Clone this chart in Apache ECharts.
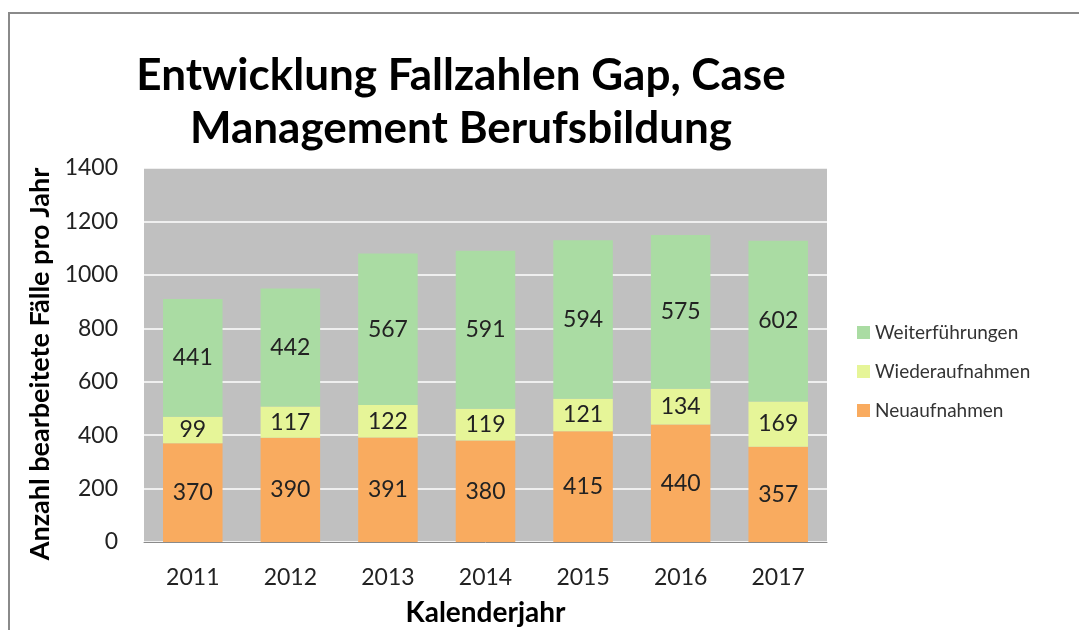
<!DOCTYPE html>
<html>
<head>
<meta charset="utf-8">
<script src="https://cdn.jsdelivr.net/npm/echarts@6/dist/echarts.min.js"></script>
<style>
  html, body { margin: 0; padding: 0; background: #fff; }
  #chart { width: 1079px; height: 630px; }
</style>
</head>
<body>
<div id="chart"></div>
<script>
// data
const years = ['2011', '2012', '2013', '2014', '2015', '2016', '2017'];
const neuaufnahmen = [370, 390, 391, 380, 415, 440, 357];
const wiederaufnahmen = [99, 117, 122, 119, 121, 134, 169];
const weiterfuehrungen = [441, 442, 567, 591, 594, 575, 602];

const font = 'Lato';
const dark = '#222';

let chart = echarts.init(document.getElementById('chart'));

function seg(name, data, color) {
  return {
    name: name,
    type: 'bar',
    stack: 'total',
    barWidth: '61%',
    data: data,
    itemStyle: { color: color },
    label: {
      show: true,
      position: 'inside',
      fontFamily: font,
      fontSize: 23,
      color: dark
    }
  };
}

chart.setOption({
  animation: false,
  graphic: [
    {
      type: 'rect',
      shape: { x: 9, y: 13, width: 1200, height: 700 },
      style: { fill: 'none', stroke: '#8a8a8a', lineWidth: 2 }
    },
    {
      type: 'text',
      x: 461, y: 76,
      style: {
        text: 'Entwicklung Fallzahlen Gap, Case',
        fontFamily: font, fontWeight: 'bold', fontSize: 44,
        fill: '#000', align: 'center', verticalAlign: 'middle'
      }
    },
    {
      type: 'text',
      x: 461, y: 129,
      style: {
        text: 'Management Berufsbildung',
        fontFamily: font, fontWeight: 'bold', fontSize: 44,
        fill: '#000', align: 'center', verticalAlign: 'middle'
      }
    }
  ],
  legend: {
    orient: 'vertical',
    left: 852,
    top: 318,
    itemWidth: 13,
    itemHeight: 13,
    itemGap: 20,
    itemTextGap: 4,
    icon: 'rect',
    textStyle: { fontFamily: font, fontSize: 19, color: '#333' },
    data: ['Weiterführungen', 'Wiederaufnahmen', 'Neuaufnahmen']
  },
  grid: {
    left: 144,
    right: 252,
    top: 168,
    bottom: 88,
    outerBoundsMode: 'none',
    containLabel: false,
    show: true,
    backgroundColor: '#c0c0c0',
    borderWidth: 0
  },
  xAxis: {
    type: 'category',
    data: years,
    name: 'Kalenderjahr',
    nameLocation: 'middle',
    nameGap: 57,
    nameTextStyle: { fontFamily: font, fontWeight: 'bold', fontSize: 28, color: '#000' },
    axisLine: { lineStyle: { color: '#8a8a8a', width: 1 } },
    axisTick: { length: 8, lineStyle: { color: '#8a8a8a' } },
    axisLabel: { fontFamily: font, fontSize: 23, color: dark, margin: 24 }
  },
  yAxis: {
    type: 'value',
    min: 0,
    max: 1400,
    interval: 200,
    name: 'Anzahl bearbeitete Fälle pro Jahr',
    nameLocation: 'middle',
    nameGap: 90,
    nameTextStyle: {
      fontFamily: font, fontWeight: 'bold', fontSize: 27, color: '#000',
      padding: [0, 18, 0, 0]
    },
    axisLine: { show: false },
    axisTick: { show: false },
    axisLabel: {
      fontFamily: font, fontSize: 23, color: dark, margin: 26,
      formatter: function (v) { return String(v); }
    },
    splitLine: { lineStyle: { color: '#ffffff', width: 1.5 } }
  },
  series: [
    seg('Neuaufnahmen', neuaufnahmen, '#f9ab5f'),
    seg('Wiederaufnahmen', wiederaufnahmen, '#e6f598'),
    seg('Weiterführungen', weiterfuehrungen, '#aadca3')
  ]
});
</script>
</body>
</html>
